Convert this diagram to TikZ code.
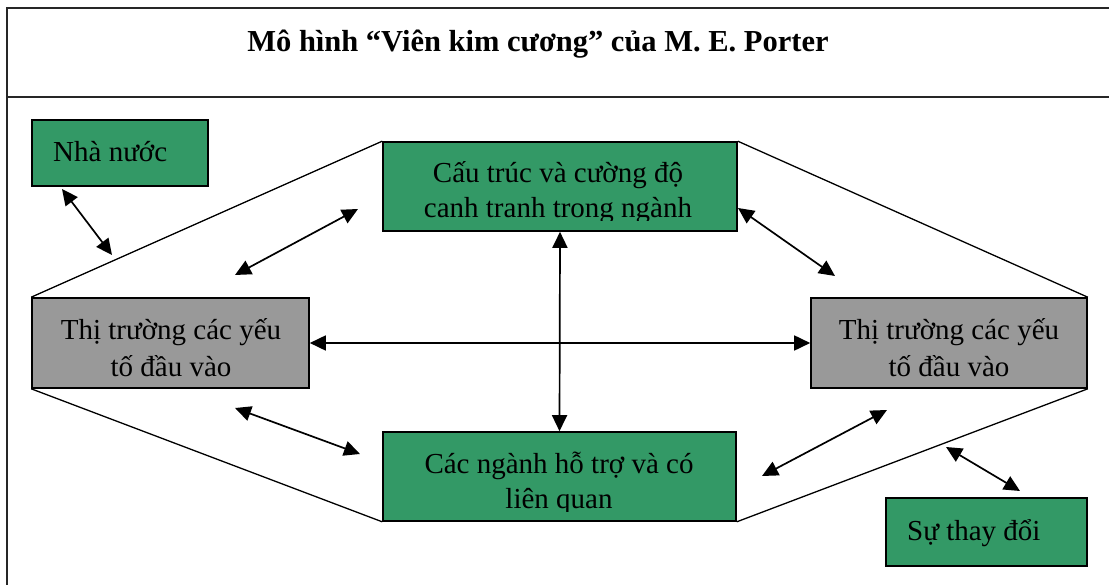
\documentclass[tikz,border=0pt]{standalone}
\usepackage{fontspec}
\setmainfont{Liberation Serif}
\usetikzlibrary{arrows.meta}
\definecolor{boxgreen}{HTML}{339966}
\definecolor{boxgrey}{HTML}{999999}

\begin{document}
\begin{tikzpicture}[x=1pt,y=-1pt,
  frame/.style={line width=2.2pt, draw=black!85},
  box/.style={draw=black, line width=1.6pt, inner sep=0pt, rectangle},
  greenbox/.style={box, fill=boxgreen},
  greybox/.style={box, fill=boxgrey},
  lbl/.style={inner sep=0pt, font=\fontsize{29}{35}\selectfont, anchor=base},
  heading/.style={inner sep=0pt, font=\fontsize{30.5}{35}\selectfont\bfseries, anchor=base},
  edge/.style={line width=1.3pt},
  link/.style={line width=1.7pt, {Triangle[length=16pt,width=15pt]}-{Triangle[length=16pt,width=15pt]}},
]
\useasboundingbox (0,0) rectangle (1109,585);

% outer frame and title row
\draw[frame] (1109,8) -- (7,8) -- (7,585);
\draw[frame] (7,97) -- (1109,97);
\node[heading] (title) at (538,52) {Mô hình “Viên kim cương” của M. E. Porter};

% boxes
\node[greenbox, minimum width=176pt, minimum height=66pt] (gov) at (120,153) {};
\node[greenbox, minimum width=354pt, minimum height=89pt] (top) at (560,186.5) {};
\node[greybox, minimum width=277pt, minimum height=90pt] (left) at (170.5,343) {};
\node[greybox, minimum width=276pt, minimum height=90pt] (right) at (949,343) {};
\node[greenbox, minimum width=353pt, minimum height=89pt] (bot) at (559.5,476.5) {};
\node[greenbox, minimum width=201pt, minimum height=68pt] (change) at (986.5,532) {};

% text areas of the two middle boxes end just below the last baseline
\coordinate (topcut) at (737,221);
\coordinate (botcut) at (736,511);

% box labels
\node[lbl, anchor=base west] (govt) at (53,162) {Nhà nước};
\begin{scope}
  \clip (top.north west) rectangle (topcut);
  \node[lbl] (topa) at (558,183) {Cấu trúc và cường độ};
  \node[lbl] (topb) at (558,218) {canh tranh trong ngành};
\end{scope}
\node[lbl] (lefta) at (171,340) {Thị trường các yếu};
\node[lbl] (leftb) at (171,377) {tố đầu vào};
\node[lbl] (righta) at (949,340) {Thị trường các yếu};
\node[lbl] (rightb) at (949,377) {tố đầu vào};
\begin{scope}
  \clip (bot.north west) rectangle (botcut);
  \node[lbl] (bota) at (559,473) {Các ngành hỗ trợ và có};
  \node[lbl] (botb) at (559,508) {liên quan};
\end{scope}
\node[lbl, anchor=base west] (changet) at (907,540) {Sự thay đổi};

% diamond outline
\draw[edge] (left.north west) -- (top.north west);
\draw[edge] (top.north east) -- (right.north east);
\draw[edge] (left.south west) -- (bot.south west);
\draw[edge] (bot.south east) -- (right.south east);

% free arrow ends
\coordinate (g1) at (62,189);   \coordinate (g2) at (112,255);
\coordinate (l1) at (235,275);  \coordinate (l2) at (358,209);
\coordinate (r1) at (738,208);  \coordinate (r2) at (835,276);
\coordinate (m1) at (235,408);  \coordinate (m2) at (360,454);
\coordinate (n1) at (762,476);  \coordinate (n2) at (887,410);
\coordinate (c1) at (946,447);  \coordinate (c2) at (1020,491);

% two-way links
\draw[link] (g1) -- (g2);
\draw[link] (l1) -- (l2);
\draw[link] (r1) -- (r2);
\draw[link] (m1) -- (m2);
\draw[link] (n1) -- (n2);
\draw[link] (c1) -- (c2);
\draw[link] (left.east) -- (right.west);
\draw[link] (top.south) -- (bot.north);
\end{tikzpicture}
\end{document}
